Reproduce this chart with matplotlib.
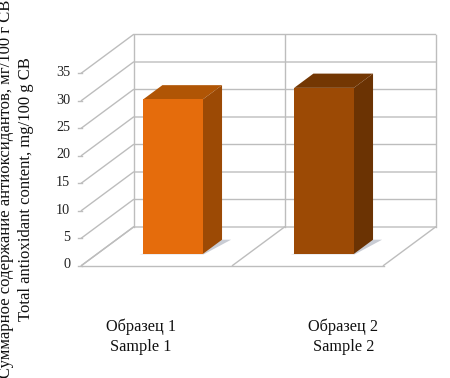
import matplotlib
matplotlib.use("Agg")
import matplotlib.pyplot as plt
from matplotlib.patches import Polygon

plt.rcParams['font.family'] = ['Liberation Serif', 'DejaVu Serif']

# Data
categories = ["Образец 1\nSample 1", "Образец 2\nSample 2"]
values = [28.1, 30.2]
yticks = [0, 5, 10, 15, 20, 25, 30, 35]
front_colors = ["#e56c0c", "#9c4a05"]
top_colors = ["#b05505", "#733703"]
side_colors = ["#9c4a05", "#6b3303"]
ylabel_ru = "Суммарное содержание антиоксидантов, мг/100 г СВ"
ylabel_en = "Total antioxidant content, mg/100 g СВ"

# Oblique projection of the fake 3D chart, in pixels
x0, y0 = 81.5, 265.5      # front left corner of the floor
cat_w = 151.0             # width of one category
unit_h = 5.5              # height of one y unit
dx, dy = 52.0, -38.5      # floor depth offset
grid_col = "#bdbdbd"


def proj(c, d, v):
    # c = category position, d = depth 0..1, v = value
    return (x0 + c * cat_w + d * dx, y0 + d * dy - v * unit_h)


fig = plt.figure(figsize=(4.5, 3.78), dpi=100)
ax = fig.add_axes([0, 0, 1, 1])
ax.set_xlim(0, 450)
ax.set_ylim(378, 0)
ax.axis("off")

ncat = len(categories)
top = yticks[-1]

# gridlines on side and back walls
for v in yticks:
    pts = [proj(0, 0, v), proj(0, 1, v), proj(ncat, 1, v)]
    ax.plot([p[0] for p in pts], [p[1] for p in pts], color=grid_col, lw=1.0, zorder=1)
    p = proj(0, 0, v)
    ax.plot([p[0] - 4, p[0]], [p[1], p[1]], color=grid_col, lw=1.0, zorder=1)
    ax.text(p[0] - 11.5, p[1] - 0.5, str(v), ha="right", va="center", fontsize=10.2, color="#222222")

# wall verticals and floor dividers
for c in range(ncat + 1):
    a, b = proj(c, 1, 0), proj(c, 1, top)
    ax.plot([a[0], b[0]], [a[1], b[1]], color=grid_col, lw=1.0, zorder=1)
    a, b = proj(c, 0, 0), proj(c, 1, 0)
    ax.plot([a[0], b[0]], [a[1], b[1]], color=grid_col, lw=1.0, zorder=1)
a, b = proj(0, 0, 0), proj(ncat, 0, 0)
ax.plot([a[0], b[0]], [a[1], b[1]], color=grid_col, lw=1.0, zorder=1)

# bars
c1, c2 = 0.305, 0.70
d1, d2 = 0.30, 0.67
for i, v in enumerate(values):
    l, r = i + c1, i + c2
    # soft floor shadow
    ax.add_patch(Polygon([proj(l - 0.02, d1 - 0.01, 0), proj(r + 0.01, d1 - 0.01, 0), proj(r + 0.06, d2, 0), proj(r, d2, 0)],
                         closed=True, fc="#c9ccd4", ec="none", zorder=2))
    ax.add_patch(Polygon([proj(l, d1, 0), proj(r, d1, 0), proj(r, d1, v), proj(l, d1, v)],
                         closed=True, fc=front_colors[i], ec="none", zorder=4))
    ax.add_patch(Polygon([proj(l, d1, v), proj(r, d1, v), proj(r, d2, v), proj(l, d2, v)],
                         closed=True, fc=top_colors[i], ec="none", zorder=3))
    ax.add_patch(Polygon([proj(r, d1, 0), proj(r, d2, 0), proj(r, d2, v), proj(r, d1, v)],
                         closed=True, fc=side_colors[i], ec="none", zorder=3))
    # category labels
    ax.text(i * 202.5 + 141, 336.5, categories[i], ha="center", va="center", fontsize=11.7,
            linespacing=1.35, color="#111111")

# rotated axis titles
ax.text(6.5, 189, ylabel_ru, rotation=90, ha="center", va="center", fontsize=12, color="#111111")
ax.text(26, 189, ylabel_en, rotation=90, ha="center", va="center", fontsize=12, color="#111111")

fig.savefig("out.png", dpi=100)
